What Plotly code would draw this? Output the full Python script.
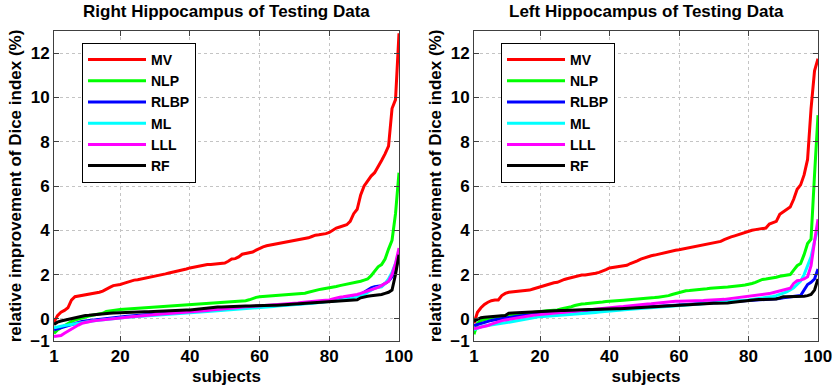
import plotly.graph_objects as go

subjects = list(range(1, 101))
methods = ["MV", "NLP", "RLBP", "ML", "LLL", "RF"]
colors = ["#ff0000", "#00ff00", "#0000ff", "#00ffff", "#ff00ff", "#000000"]
x_ticks = [1, 20, 40, 60, 80, 100]
y_ticks = [-1, 0, 2, 4, 6, 8, 10, 12]

right_mv = [-0.15, 0.15, 0.3, 0.38, 0.5, 0.85, 1.0, 1.03, 1.05, 1.08,
            1.1, 1.12, 1.15, 1.2, 1.25, 1.32, 1.42, 1.5, 1.52, 1.55,
            1.6, 1.66, 1.72, 1.75, 1.77, 1.8, 1.83, 1.86, 1.88, 1.92,
            1.96, 2.0, 2.03, 2.07, 2.1, 2.14, 2.18, 2.22, 2.25, 2.3,
            2.33, 2.37, 2.42, 2.44, 2.45, 2.46, 2.47, 2.48, 2.5, 2.52,
            2.6, 2.7, 2.72, 2.8, 2.92, 2.95, 2.98, 3.02, 3.1, 3.18,
            3.25, 3.3, 3.33, 3.36, 3.4, 3.42, 3.45, 3.48, 3.5, 3.55,
            3.58, 3.6, 3.62, 3.66, 3.72, 3.78, 3.8, 3.82, 3.85, 3.9,
            4.0, 4.1, 4.15, 4.2, 4.25, 4.4, 4.75, 4.95, 5.6, 6.0,
            6.25, 6.45, 6.6, 6.85, 7.15, 7.45, 7.8, 9.5, 9.9, 12.9]
right_nlp = [-0.66, -0.5, -0.4, -0.3, -0.2, -0.12, -0.05, 0.0, 0.05, 0.1,
             0.13, 0.16, 0.2, 0.23, 0.25, 0.33, 0.36, 0.38, 0.4, 0.42,
             0.43, 0.44, 0.46, 0.47, 0.48, 0.5, 0.51, 0.52, 0.54, 0.55,
             0.56, 0.57, 0.58, 0.59, 0.6, 0.61, 0.62, 0.63, 0.64, 0.65,
             0.66, 0.67, 0.68, 0.69, 0.7, 0.71, 0.72, 0.73, 0.74, 0.75,
             0.76, 0.77, 0.78, 0.79, 0.8, 0.82, 0.86, 0.92, 0.97, 1.0,
             1.01, 1.02, 1.03, 1.04, 1.05, 1.06, 1.07, 1.08, 1.09, 1.1,
             1.12, 1.14, 1.16, 1.2, 1.25, 1.28, 1.32, 1.35, 1.37, 1.4,
             1.43, 1.46, 1.5, 1.53, 1.55, 1.58, 1.62, 1.65, 1.7, 1.75,
             1.8, 1.95, 2.15, 2.35, 2.45, 2.7, 3.15, 3.55, 4.75, 6.6]
right_rlbp = [-0.5, -0.45, -0.41, -0.35, -0.3, -0.24, -0.2, -0.16, -0.12, -0.1,
              -0.08, -0.06, -0.03, -0.02, 0.0, 0.02, 0.05, 0.06, 0.08, 0.1,
              0.11, 0.12, 0.13, 0.15, 0.15, 0.16, 0.18, 0.18, 0.19, 0.2,
              0.21, 0.22, 0.24, 0.24, 0.25, 0.26, 0.27, 0.29, 0.29, 0.3,
              0.32, 0.33, 0.35, 0.36, 0.38, 0.39, 0.41, 0.42, 0.44, 0.45,
              0.46, 0.47, 0.48, 0.49, 0.5, 0.51, 0.52, 0.53, 0.54, 0.55,
              0.56, 0.57, 0.58, 0.59, 0.6, 0.61, 0.62, 0.63, 0.64, 0.65,
              0.67, 0.68, 0.7, 0.71, 0.73, 0.74, 0.76, 0.77, 0.79, 0.8,
              0.82, 0.84, 0.86, 0.88, 0.9, 0.95, 1.0, 1.05, 1.12, 1.2,
              1.3, 1.4, 1.45, 1.48, 1.5, 1.6, 1.7, 1.9, 2.2, 2.9]
right_ml = [-0.4, -0.36, -0.33, -0.3, -0.28, -0.25, -0.22, -0.2, -0.17, -0.14,
            -0.12, -0.1, -0.08, -0.06, -0.04, -0.02, 0.0, 0.02, 0.03, 0.05,
            0.06, 0.07, 0.08, 0.09, 0.1, 0.11, 0.13, 0.14, 0.15, 0.16,
            0.17, 0.18, 0.19, 0.2, 0.21, 0.22, 0.23, 0.24, 0.24, 0.25,
            0.27, 0.28, 0.3, 0.31, 0.33, 0.34, 0.36, 0.37, 0.38, 0.4,
            0.41, 0.42, 0.43, 0.44, 0.45, 0.46, 0.47, 0.48, 0.49, 0.5,
            0.52, 0.53, 0.55, 0.56, 0.58, 0.59, 0.61, 0.62, 0.63, 0.64,
            0.65, 0.67, 0.68, 0.7, 0.71, 0.72, 0.74, 0.75, 0.77, 0.78,
            0.8, 0.82, 0.84, 0.86, 0.88, 0.92, 0.96, 1.0, 1.05, 1.1,
            1.2, 1.3, 1.38, 1.42, 1.45, 1.6, 1.8, 2.1, 2.5, 3.0]
right_lll = [-0.8, -0.78, -0.75, -0.65, -0.55, -0.45, -0.35, -0.28, -0.2, -0.16,
             -0.13, -0.1, -0.08, -0.06, -0.04, -0.03, -0.01, 0.0, 0.03, 0.05,
             0.06, 0.08, 0.09, 0.11, 0.12, 0.14, 0.15, 0.17, 0.18, 0.2,
             0.21, 0.22, 0.23, 0.24, 0.25, 0.26, 0.27, 0.28, 0.29, 0.3,
             0.32, 0.33, 0.35, 0.37, 0.38, 0.4, 0.41, 0.42, 0.44, 0.45,
             0.47, 0.48, 0.5, 0.51, 0.53, 0.54, 0.56, 0.57, 0.58, 0.6,
             0.61, 0.62, 0.63, 0.64, 0.65, 0.66, 0.67, 0.68, 0.69, 0.7,
             0.72, 0.74, 0.76, 0.77, 0.79, 0.8, 0.82, 0.83, 0.84, 0.85,
             0.9, 0.95, 0.98, 1.0, 1.02, 1.05, 1.08, 1.1, 1.15, 1.2,
             1.25, 1.3, 1.35, 1.42, 1.5, 1.6, 1.7, 2.0, 2.5, 3.2]
right_rf = [-0.25, -0.15, -0.1, -0.06, -0.02, 0.0, 0.03, 0.1, 0.13, 0.15,
            0.16, 0.18, 0.2, 0.21, 0.22, 0.24, 0.25, 0.26, 0.27, 0.28,
            0.29, 0.29, 0.3, 0.3, 0.31, 0.31, 0.32, 0.32, 0.33, 0.33,
            0.34, 0.35, 0.35, 0.36, 0.37, 0.37, 0.38, 0.39, 0.4, 0.4,
            0.42, 0.44, 0.46, 0.48, 0.5, 0.51, 0.52, 0.53, 0.54, 0.55,
            0.55, 0.56, 0.56, 0.57, 0.57, 0.58, 0.58, 0.59, 0.59, 0.6,
            0.6, 0.61, 0.61, 0.62, 0.62, 0.63, 0.63, 0.64, 0.64, 0.65,
            0.66, 0.67, 0.68, 0.69, 0.7, 0.71, 0.72, 0.73, 0.74, 0.75,
            0.76, 0.77, 0.78, 0.79, 0.8, 0.82, 0.84, 0.86, 0.95, 1.0,
            1.02, 1.04, 1.05, 1.07, 1.1, 1.15, 1.2, 1.3, 2.0, 2.9]

left_mv = [-0.2, 0.3, 0.5, 0.65, 0.75, 0.82, 0.85, 0.85, 1.05, 1.15,
           1.2, 1.22, 1.23, 1.24, 1.25, 1.28, 1.3, 1.35, 1.4, 1.45,
           1.5, 1.55, 1.6, 1.63, 1.65, 1.72, 1.78, 1.82, 1.86, 1.9,
           1.95, 1.98, 1.98, 2.0, 2.02, 2.06, 2.1, 2.15, 2.22, 2.3,
           2.33, 2.35, 2.37, 2.4, 2.42, 2.5, 2.55, 2.62, 2.7, 2.75,
           2.82, 2.85, 2.88, 2.92, 2.96, 3.0, 3.05, 3.08, 3.1, 3.12,
           3.15, 3.18, 3.22, 3.25, 3.27, 3.3, 3.33, 3.36, 3.38, 3.42,
           3.45, 3.5, 3.58, 3.65, 3.7, 3.75, 3.8, 3.87, 3.92, 3.96,
           4.0, 4.03, 4.05, 4.08, 4.1, 4.28, 4.35, 4.4, 4.72, 4.82,
           4.92, 5.05, 5.4, 5.85, 6.05, 6.5, 7.2, 9.5, 11.2, 11.75]
left_nlp = [-0.7, -0.2, -0.08, -0.03, 0.0, 0.05, 0.08, 0.1, 0.12, 0.15,
            0.17, 0.19, 0.21, 0.23, 0.25, 0.27, 0.29, 0.31, 0.33, 0.35,
            0.36, 0.37, 0.38, 0.39, 0.4, 0.45, 0.48, 0.5, 0.55, 0.6,
            0.65, 0.67, 0.68, 0.69, 0.7, 0.72, 0.74, 0.76, 0.78, 0.8,
            0.81, 0.82, 0.83, 0.84, 0.85, 0.86, 0.87, 0.88, 0.89, 0.9,
            0.92, 0.94, 0.96, 0.98, 1.0, 1.02, 1.05, 1.1, 1.15, 1.2,
            1.25, 1.27, 1.28, 1.29, 1.3, 1.32, 1.34, 1.36, 1.38, 1.4,
            1.41, 1.42, 1.43, 1.44, 1.45, 1.47, 1.49, 1.51, 1.53, 1.55,
            1.6, 1.65, 1.72, 1.78, 1.8, 1.82, 1.85, 1.88, 1.92, 1.95,
            1.97, 2.0, 2.2, 2.4, 2.5, 2.9, 3.4, 3.6, 6.5, 9.2]
left_rlbp = [-0.3, -0.25, -0.2, -0.15, -0.1, -0.07, -0.04, -0.01, 0.02, 0.05,
             0.07, 0.09, 0.11, 0.13, 0.15, 0.17, 0.19, 0.21, 0.23, 0.25,
             0.26, 0.27, 0.28, 0.29, 0.3, 0.31, 0.32, 0.33, 0.34, 0.35,
             0.36, 0.37, 0.38, 0.39, 0.4, 0.41, 0.42, 0.43, 0.44, 0.45,
             0.46, 0.47, 0.47, 0.48, 0.49, 0.5, 0.5, 0.51, 0.52, 0.53,
             0.53, 0.54, 0.55, 0.56, 0.56, 0.57, 0.58, 0.59, 0.59, 0.6,
             0.61, 0.62, 0.63, 0.64, 0.65, 0.66, 0.67, 0.68, 0.69, 0.7,
             0.71, 0.72, 0.73, 0.74, 0.75, 0.76, 0.77, 0.78, 0.79, 0.8,
             0.81, 0.82, 0.83, 0.84, 0.85, 0.86, 0.88, 0.9, 0.92, 0.95,
             0.97, 0.98, 1.0, 1.02, 1.05, 1.3, 1.55, 1.65, 1.8, 2.25]
left_ml = [-0.5, -0.42, -0.36, -0.32, -0.29, -0.26, -0.24, -0.22, -0.2, -0.18,
           -0.15, -0.12, -0.1, -0.07, -0.05, -0.02, 0.0, 0.04, 0.07, 0.1,
           0.11, 0.12, 0.13, 0.14, 0.15, 0.16, 0.17, 0.18, 0.19, 0.2,
           0.22, 0.23, 0.25, 0.26, 0.28, 0.29, 0.31, 0.32, 0.34, 0.35,
           0.37, 0.38, 0.39, 0.41, 0.42, 0.43, 0.45, 0.46, 0.47, 0.48,
           0.49, 0.5, 0.52, 0.53, 0.54, 0.55, 0.56, 0.57, 0.59, 0.6,
           0.61, 0.62, 0.63, 0.65, 0.66, 0.67, 0.68, 0.69, 0.71, 0.72,
           0.73, 0.74, 0.75, 0.77, 0.78, 0.79, 0.8, 0.82, 0.83, 0.85,
           0.87, 0.89, 0.91, 0.93, 0.95, 0.98, 1.01, 1.05, 1.1, 1.15,
           1.22, 1.3, 1.4, 1.55, 1.7, 2.0, 2.4, 2.8, 3.5, 4.1]
left_lll = [-0.45, -0.42, -0.38, -0.34, -0.3, -0.24, -0.18, -0.12, -0.08, -0.05,
            -0.02, 0.01, 0.04, 0.07, 0.1, 0.12, 0.14, 0.16, 0.18, 0.2,
            0.21, 0.23, 0.24, 0.26, 0.27, 0.29, 0.3, 0.32, 0.33, 0.35,
            0.36, 0.38, 0.39, 0.41, 0.42, 0.44, 0.45, 0.47, 0.48, 0.5,
            0.52, 0.53, 0.55, 0.56, 0.58, 0.59, 0.61, 0.62, 0.64, 0.65,
            0.67, 0.68, 0.7, 0.71, 0.73, 0.74, 0.76, 0.77, 0.79, 0.8,
            0.8, 0.81, 0.81, 0.82, 0.82, 0.83, 0.83, 0.84, 0.84, 0.85,
            0.86, 0.87, 0.88, 0.9, 0.92, 0.94, 0.96, 0.97, 0.99, 1.0,
            1.02, 1.04, 1.06, 1.08, 1.1, 1.14, 1.18, 1.22, 1.26, 1.3,
            1.33, 1.38, 1.6, 1.72, 1.75, 1.8, 1.9, 2.4, 3.5, 4.5]
left_rf = [-0.1, -0.02, 0.05, 0.07, 0.09, 0.1, 0.11, 0.12, 0.14, 0.15,
           0.25, 0.26, 0.27, 0.28, 0.29, 0.3, 0.31, 0.32, 0.34, 0.35,
           0.35, 0.36, 0.36, 0.37, 0.37, 0.38, 0.38, 0.39, 0.39, 0.4,
           0.4, 0.41, 0.41, 0.42, 0.42, 0.43, 0.43, 0.44, 0.44, 0.45,
           0.45, 0.46, 0.46, 0.47, 0.47, 0.48, 0.48, 0.49, 0.49, 0.5,
           0.51, 0.52, 0.53, 0.54, 0.55, 0.56, 0.57, 0.58, 0.59, 0.6,
           0.61, 0.62, 0.63, 0.64, 0.65, 0.66, 0.67, 0.68, 0.69, 0.7,
           0.7, 0.7, 0.71, 0.72, 0.74, 0.76, 0.78, 0.8, 0.83, 0.85,
           0.86, 0.86, 0.87, 0.87, 0.88, 0.88, 0.89, 0.9, 0.95, 1.0,
           1.0, 1.0, 1.0, 1.0, 1.0, 1.02, 1.05, 1.1, 1.3, 1.8]

right_series = [right_mv, right_nlp, right_rlbp, right_ml, right_lll, right_rf]
left_series = [left_mv, left_nlp, left_rlbp, left_ml, left_lll, left_rf]

FONT = "Liberation Sans, Arial, sans-serif"
fig = go.Figure()

for name, col, vals in zip(methods, colors, right_series):
    fig.add_trace(go.Scatter(x=subjects, y=vals, mode="lines", name=name,
                             line=dict(color=col, width=3), xaxis="x", yaxis="y",
                             legend="legend"))
for name, col, vals in zip(methods, colors, left_series):
    fig.add_trace(go.Scatter(x=subjects, y=vals, mode="lines", name=name,
                             line=dict(color=col, width=3), xaxis="x2", yaxis="y2",
                             legend="legend2"))

W, H = 835, 391
ydom = [1 - 341 / H, 1 - 31 / H]
axis_common = dict(showline=True, linecolor="#404040", linewidth=1, mirror="ticks",
                   ticks="inside", ticklen=5, tickcolor="#404040",
                   showgrid=True, gridcolor="#c4c4c4", griddash="3px,3px", gridwidth=1,
                   zeroline=False, automargin=False,
                   tickfont=dict(family=FONT, size=17, color="black", weight="bold"))

xa = dict(axis_common, range=[1, 100], tickvals=x_ticks,
          title=dict(text="subjects", font=dict(family=FONT, size=17, color="black", weight="bold"),
                     standoff=4))
ya = dict(axis_common, range=[-1, 13], tickvals=y_ticks,
          title=dict(text="relative improvement of Dice index (%)",
                     font=dict(family=FONT, size=17, color="black", weight="bold"), standoff=4))

legend_common = dict(bgcolor="white", bordercolor="black", borderwidth=1,
                     font=dict(family=FONT, size=14, color="black", weight="bold"),
                     xanchor="left", yanchor="top", itemwidth=58, tracegroupgap=0)

fig.update_layout(
    width=W, height=H,
    margin=dict(l=0, r=0, t=0, b=0, autoexpand=False),
    paper_bgcolor="white", plot_bgcolor="white",
    xaxis=dict(xa, domain=[54 / W, 399 / W], anchor="y"),
    yaxis=dict(ya, domain=ydom, anchor="x"),
    xaxis2=dict(xa, domain=[474 / W, 818 / W], anchor="y2"),
    yaxis2=dict(ya, domain=ydom, anchor="x2"),
    legend=dict(legend_common, x=82 / W, y=1 - 43 / H),
    legend2=dict(legend_common, x=501 / W, y=1 - 43 / H),
    annotations=[
        dict(text="Right Hippocampus of Testing Data", x=(54 + 399) / 2 / W, y=1 - 12 / H,
             xref="paper", yref="paper", showarrow=False, xanchor="center", yanchor="middle",
             font=dict(family=FONT, size=17, color="black", weight="bold")),
        dict(text="Left Hippocampus of Testing Data", x=(474 + 818) / 2 / W, y=1 - 12 / H,
             xref="paper", yref="paper", showarrow=False, xanchor="center", yanchor="middle",
             font=dict(family=FONT, size=17, color="black", weight="bold")),
    ],
)

fig.write_html("out.html", config={"displayModeBar": False},
               post_script="document.body.style.margin='0';document.body.style.overflow='hidden';")
